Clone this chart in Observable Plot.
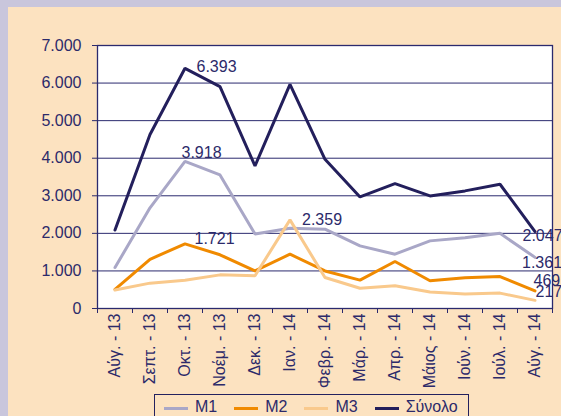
<!DOCTYPE html>
<html>
<head>
<meta charset="utf-8">
<script src="https://cdn.jsdelivr.net/npm/d3@7"></script>
<script src="https://cdn.jsdelivr.net/npm/@observablehq/plot@0.6"></script>
<style>
  html, body { margin: 0; padding: 0; width: 561px; height: 416px; overflow: hidden; background: #c9c6dc; }
  #panel { position: absolute; left: 8px; top: 7px; width: 553px; height: 409px; background: #fce2c0; overflow: hidden;
           font-family: "Liberation Sans", Arial, sans-serif; }
  #chart svg { display: block; overflow: visible; }
  #legend { position: absolute; left: 146px; top: 387px; width: 315px; height: 32px; box-sizing: border-box;
            border: 1px solid #24215e; display: flex; align-items: center; padding: 0 0 6px 9px;
            font-size: 16px; color: #2c2a6a; line-height: 16px; }
  .item { display: flex; align-items: center; margin-right: 17px; }
  .sw { width: 24px; height: 3px; margin-right: 7px; position: relative; top: 1px; }
</style>
</head>
<body>
<div id="panel">
  <div id="chart"></div>
  <div id="legend"></div>
</div>
<script>
// ---- data ----
const months = ["Αύγ. - 13","Σεπτ. - 13","Οκτ. - 13","Νοέμ. - 13","Δεκ. - 13","Ιαν. - 14","Φεβρ. - 14",
                "Μάρ. - 14","Απρ. - 14","Μάιος - 14","Ιούν. - 14","Ιούλ. - 14","Αύγ. - 14"];
const m1     = [1090, 2680, 3918, 3555, 1985, 2137, 2110, 1667, 1445, 1800, 1885, 2000, 1361];
const m2     = [ 510, 1310, 1721, 1430, 1000, 1445, 1000,  755, 1250,  740,  820,  850,  469];
const m3     = [ 490,  675,  754,  895,  870, 2359,  825,  540,  605,  440,  385,  410,  217];
const synolo = [2090, 4630, 6393, 5905, 3795, 5966, 3972, 2970, 3324, 2996, 3130, 3307, 2047];
const seriesNames = ["M1", "M2", "M3", "Σύνολο"];
const yTicks = [0, 1000, 2000, 3000, 4000, 5000, 6000, 7000];

// ---- styling ----
const colors = {"M1": "#a9a7c7", "M2": "#f08a00", "M3": "#f9c98c", "Σύνολο": "#231f5c"};
const navy = "#2b2a6e";
const textColor = "#2c2a6a";
const valuesBySeries = {"M1": m1, "M2": m2, "M3": m3, "Σύνολο": synolo};

// which points get a value label, and where the label sits relative to the point
const labelPlacement = [
  {series: "Σύνολο", idx: 2,  dx: 11.5, dy: -1},
  {series: "M1",     idx: 2,  dx: -3.5, dy: -8},
  {series: "M2",     idx: 2,  dx: 9.5,  dy: -4.5},
  {series: "M3",     idx: 5,  dx: 12,   dy: 0},
  {series: "Σύνολο", idx: 12, dx: -12.5, dy: 4},
  {series: "M1",     idx: 12, dx: -13,  dy: 6},
  {series: "M2",     idx: 12, dx: -1.5, dy: -10},
  {series: "M3",     idx: 12, dx: 0.5,  dy: -8.5}
];

const fmt = d3.formatLocale({decimal: ",", thousands: ".", grouping: [3], currency: ["", "€"]}).format(",");
const rows = (name) => months.map((m, i) => ({month: m, value: valuesBySeries[name][i], series: name}));

const W = 553, H = 388, ML = 89, MR = 9, MT = 38, MB = 87;
const half = (W - ML - MR) / months.length / 2;

const marks = [
  Plot.frame({fill: "white", stroke: null}),
  Plot.gridY(yTicks, {stroke: navy, strokeOpacity: 1, strokeWidth: 1}),
  Plot.frame({stroke: navy, strokeWidth: 1.3}),
  Plot.axisY(yTicks, {tickSize: 5, tickPadding: 11, tickFormat: fmt, fontSize: 16, stroke: navy, fill: textColor}),
  Plot.axisX({tickSize: 5, tickFormat: () => "", dx: -half, stroke: navy}),
  Plot.axisX({ticks: [months[months.length - 1]], tickSize: 5, tickFormat: () => "", dx: half, stroke: navy}),
  Plot.axisX({tickSize: 0, tickPadding: 5, tickRotate: -90, fontSize: 16, fill: textColor})
];
for (const s of seriesNames) {
  marks.push(Plot.line(rows(s), {x: "month", y: "value", stroke: colors[s], strokeWidth: 3, strokeLinejoin: "miter"}));
}
for (const lp of labelPlacement) {
  const d = rows(lp.series)[lp.idx];
  marks.push(Plot.text([d], {x: "month", y: "value", text: r => fmt(r.value), dx: lp.dx, dy: lp.dy,
    textAnchor: "start", fontSize: 16, fill: textColor}));
}

const chart = Plot.plot({
  width: W, height: H,
  marginLeft: ML, marginRight: MR, marginTop: MT, marginBottom: MB,
  x: {type: "band", domain: months, padding: 0, label: null},
  y: {domain: [0, 7000], label: null},
  style: {background: "transparent", color: textColor, fontFamily: "'Liberation Sans', Arial, sans-serif", fontSize: "16px"},
  marks
});
document.getElementById("chart").appendChild(chart);

// legend
const legend = document.getElementById("legend");
for (const s of seriesNames) {
  const it = document.createElement("div");
  it.className = "item";
  const sw = document.createElement("span");
  sw.className = "sw";
  sw.style.background = colors[s];
  const tx = document.createElement("span");
  tx.textContent = s;
  it.appendChild(sw); it.appendChild(tx);
  legend.appendChild(it);
}
</script>
</body>
</html>
